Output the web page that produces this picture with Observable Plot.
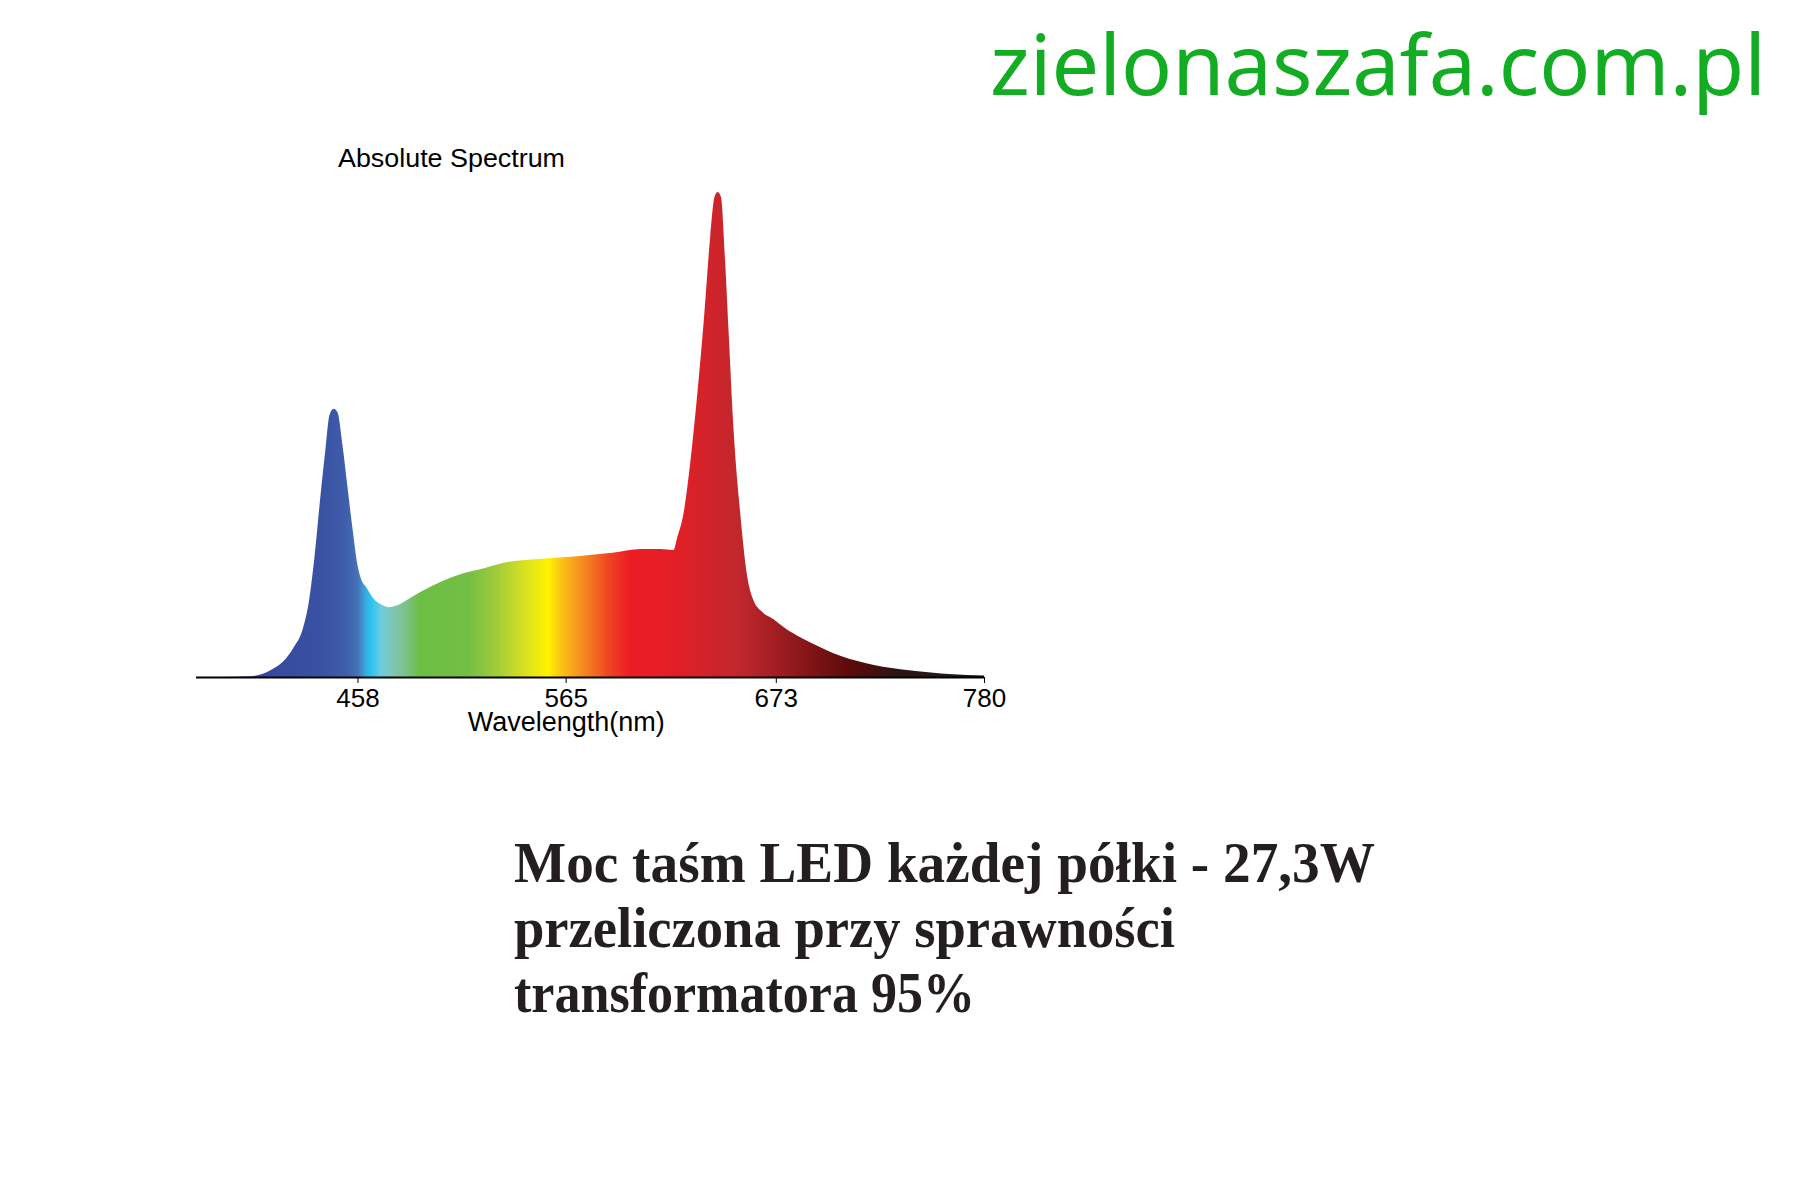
<!DOCTYPE html>
<html><head><meta charset="utf-8">
<script src="https://cdn.jsdelivr.net/npm/d3@7"></script>
<script src="https://cdn.jsdelivr.net/npm/@observablehq/plot@0.6"></script>
<style>
html,body{margin:0;padding:0;background:#fff;}
#page{position:relative;width:1800px;height:1200px;overflow:hidden;background:#fff;}
#chart{position:absolute;left:0;top:0;}
#overlay{position:absolute;left:0;top:0;pointer-events:none;}
</style></head>
<body><div id="page"><div id="chart"></div><svg id="overlay" width="1800" height="1200"></svg></div>
<script>
// ---- data ----
const wavelengths = [375, 385, 395, 403, 408, 415, 420, 425, 430, 433, 436, 439, 441.6, 443.6, 445.7, 447.7, 450.3, 452.9, 455.4, 458,
  459.5, 463, 466, 471, 474, 478.5, 485, 492, 500.5, 511.5, 523.5, 535, 553, 571, 589, 603.5, 613.5, 620.5, 622.2, 625.6,
  629, 632.5, 636, 639.3, 641.5, 643.1, 644.8, 647, 648.7, 651.3, 654.7, 658.2, 661.5, 666, 671.8, 678, 685.5, 694, 702.6, 711,
  720, 728, 737, 746, 754, 762, 771, 780];
const intensity = [0, 0, 0.05, 0.15, 0.5, 1.8, 3.3, 6.0, 10.1, 15.5, 25.2, 37.5, 47.2, 54.0, 55.3, 54.6, 47.8, 39.0, 30.7, 23.1,
  20.6, 18.2, 16.3, 14.8, 14.4, 14.8, 16.3, 17.9, 19.6, 21.3, 22.5, 23.7, 24.4, 24.9, 25.6, 26.4, 26.4, 26.2, 28.6, 33.8,
  44.1, 57.8, 73.6, 90.8, 99, 100, 99, 85.3, 71.5, 50.9, 33.8, 21, 15.8, 13.4, 11.9, 10.0, 8.2, 6.5, 4.9, 3.7,
  2.8, 2.1, 1.6, 1.2, 0.9, 0.6, 0.4, 0.3];
const tickValues = [458, 565, 673, 780];
const xDomain = [375, 780];
const stopNm = [375, 440, 452, 458, 462, 465, 470, 476, 482, 490, 515, 530, 545, 556, 562, 568, 577, 587, 598, 623, 654, 674, 695, 711, 735, 766, 780];
const stopColor = ["#2f3f98", "#3a52a3", "#3f5eab", "#4672b8", "#38a8de", "#27c4f3", "#6dcde0", "#7ec6b4", "#7cc38f", "#6dbe45", "#72bf44", "#a3cc39", "#dde31f", "#fff200", "#fcc715", "#f9a61c", "#f47a20", "#ef4423", "#ed1c24", "#e11f26", "#c1272d", "#a01d22", "#7a1214", "#5b0b0b", "#2f1414", "#1d1a1a", "#111111"];
const chartTitle = "Absolute Spectrum";
const axisLabel = [{w: 565, v: 0, label: "Wavelength(nm)"}];
const siteName = "zielonaszafa.com.pl";
const noteLines = ["Moc taśm LED każdej półki - 27,3W", "przeliczona przy sprawności", "transformatora 95%"];

const data = wavelengths.map((w, i) => ({w, v: intensity[i]}));

const plot = Plot.plot({
  width: 1100, height: 760,
  marginLeft: 196, marginRight: 116, marginTop: 192, marginBottom: 83,
  x: {domain: xDomain},
  y: {domain: [0, 100], axis: null},
  style: {fontFamily: "'Liberation Sans', Arial, sans-serif", fontSize: "26px", color: "#000", background: "transparent"},
  marks: [
    Plot.areaY(data, {x: "w", y: "v", fill: "url(#spectrum)", curve: "monotone-x"}),
    Plot.ruleY([0], {stroke: "#000", strokeWidth: 2}),
    Plot.axisX({ticks: tickValues, tickSize: 6, tickPadding: 5, fontSize: 26, label: null, tickFormat: d => String(d)}),
    Plot.text(axisLabel, {x: "w", y: "v", text: "label", dy: 53, lineAnchor: "bottom", fontSize: 27})
  ]
});
document.getElementById("chart").appendChild(plot);

// gradient along wavelength, positioned by the x scale
const xs = plot.scale("x");
const grad = d3.select(plot).insert("defs", ":first-child").append("linearGradient")
  .attr("id", "spectrum").attr("gradientUnits", "userSpaceOnUse")
  .attr("x1", xs.apply(xDomain[0])).attr("x2", xs.apply(xDomain[1])).attr("y1", 0).attr("y2", 0);
stopNm.forEach((nm, i) => {
  grad.append("stop").attr("offset", (nm - xDomain[0]) / (xDomain[1] - xDomain[0])).attr("stop-color", stopColor[i]);
});

// overlay texts
const ov = d3.select("#overlay");
ov.append("text").text(siteName)
  .attr("x", 990).attr("y", 95).attr("textLength", 776).attr("lengthAdjust", "spacingAndGlyphs")
  .attr("font-family", "'Noto Sans', sans-serif").attr("font-size", 84).attr("fill", "#13ad24");
ov.append("text").text(chartTitle)
  .attr("x", 338).attr("y", 167).attr("textLength", 227).attr("lengthAdjust", "spacingAndGlyphs")
  .attr("font-family", "'Liberation Sans', Arial, sans-serif").attr("font-size", 26).attr("fill", "#000");
const noteLen = [861, 661, 461];
noteLines.forEach((t, i) => {
  ov.append("text").text(t)
    .attr("x", 514).attr("y", 882 + i * 65).attr("textLength", noteLen[i]).attr("lengthAdjust", "spacingAndGlyphs")
    .attr("font-family", "'Liberation Serif', 'Times New Roman', serif").attr("font-weight", "bold")
    .attr("font-size", 58).attr("fill", "#231f20");
});
</script>
</body></html>
